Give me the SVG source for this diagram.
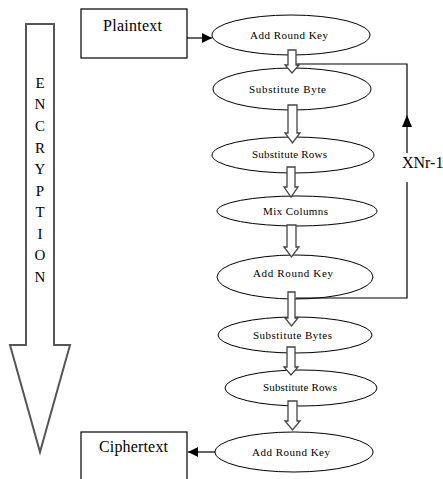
<svg xmlns="http://www.w3.org/2000/svg" width="443" height="479" viewBox="0 0 443 479">
<style>
.el{fill:#fff;stroke:#000;stroke-width:1}
.box{fill:#fff;stroke:#000;stroke-width:1.2}
.t{font-family:"Liberation Serif","Times New Roman",serif;fill:#000}
.s{font-size:11px}
.b{font-size:16px}
.ln{fill:none;stroke:#000;stroke-width:1.2}
.blk{fill:#fff;stroke:#444;stroke-width:1.3;stroke-linejoin:miter}
</style>
<defs>
<marker id="ah" viewBox="0 0 10 10" refX="10" refY="5" markerWidth="10" markerHeight="10" markerUnits="userSpaceOnUse" orient="auto">
<path d="M0,0 L10,5 L0,10 z" fill="#000"/>
</marker>
</defs>
<rect width="443" height="479" fill="#fff"/>

<g id="encryption-arrow">
<path d="M26,24 H54 V345 H70 L40,452 L10,345 H26 Z" fill="#fff" stroke="#555" stroke-width="2"/>
<g class="t" font-size="15" text-anchor="middle">
<text x="40" y="88">E</text>
<text x="40" y="109">N</text>
<text x="40" y="131">C</text>
<text x="40" y="153">R</text>
<text x="40" y="174">Y</text>
<text x="40" y="196">P</text>
<text x="40" y="217">T</text>
<text x="40" y="239">I</text>
<text x="40" y="260">O</text>
<text x="40" y="282">N</text>
</g>
</g>

<g id="plaintext">
<rect class="box" x="81" y="9" width="106" height="49"/>
<text class="t b" x="103" y="31" textLength="59">Plaintext</text>
</g>

<g id="ciphertext">
<rect class="box" x="81" y="432" width="106" height="60"/>
<text class="t b" x="99" y="452" textLength="69">Ciphertext</text>
</g>

<g id="add-round-key-1">
<ellipse class="el" cx="291" cy="35" rx="79" ry="20"/>
<text class="t s" x="250" y="39" textLength="78">Add Round Key</text>
</g>
<g id="substitute-byte-1">
<ellipse class="el" cx="292" cy="89" rx="79" ry="21"/>
<text class="t s" x="249" y="93" textLength="77">Substitute Byte</text>
</g>
<g id="substitute-rows-1">
<ellipse class="el" cx="293" cy="155" rx="81" ry="18"/>
<text class="t s" x="252" y="158" textLength="75">Substitute Rows</text>
</g>
<g id="mix-columns">
<ellipse class="el" cx="297" cy="211" rx="80" ry="15"/>
<text class="t s" x="263" y="215" textLength="65">Mix Columns</text>
</g>
<g id="add-round-key-2">
<ellipse class="el" cx="295" cy="277" rx="78" ry="22"/>
<text class="t s" x="253" y="277" textLength="80">Add Round Key</text>
</g>
<g id="substitute-bytes-2">
<ellipse class="el" cx="295" cy="335" rx="77" ry="18"/>
<text class="t s" x="253" y="339" textLength="79">Substitute Bytes</text>
</g>
<g id="substitute-rows-2">
<ellipse class="el" cx="301" cy="388" rx="76" ry="18"/>
<text class="t s" x="263" y="391" textLength="74">Substitute Rows</text>
</g>
<g id="add-round-key-3">
<ellipse class="el" cx="294" cy="452" rx="79" ry="20"/>
<text class="t s" x="252" y="456" textLength="78">Add Round Key</text>
</g>

<g id="connectors">
<line class="ln" x1="187" y1="38" x2="212" y2="38" marker-end="url(#ah)"/>
<line class="ln" x1="215" y1="452" x2="188" y2="452" marker-end="url(#ah)"/>
<polyline class="ln" points="296,298 407,298 407,182"/>
<polyline class="ln" points="407,153 407,64 296,64"/>
<polygon points="407,115 402,127 412,127" fill="#000"/>
<text class="t b" x="402" y="168">XNr-1</text>
<path class="blk" d="M288,50 H296 V65 H299 L292,73 L285,65 H288 Z"/>
<path class="blk" d="M288,105 H297 V133 H300 L292.5,143 L285,133 H288 Z"/>
<path class="blk" d="M287,167 H295 V187 H298 L291,197 L284,187 H287 Z"/>
<path class="blk" d="M287,225 H296 V247 H299 L291.5,257 L284,247 H287 Z"/>
<path class="blk" d="M288,292 H295 V318 H298 L291.5,326 L285,318 H288 Z"/>
<path class="blk" d="M287,347 H295 V367 H298 L291,375 L284,367 H287 Z"/>
<path class="blk" d="M288,401 H297 V421 H300 L292.5,430 L285,421 H288 Z"/>
</g>
</svg>
